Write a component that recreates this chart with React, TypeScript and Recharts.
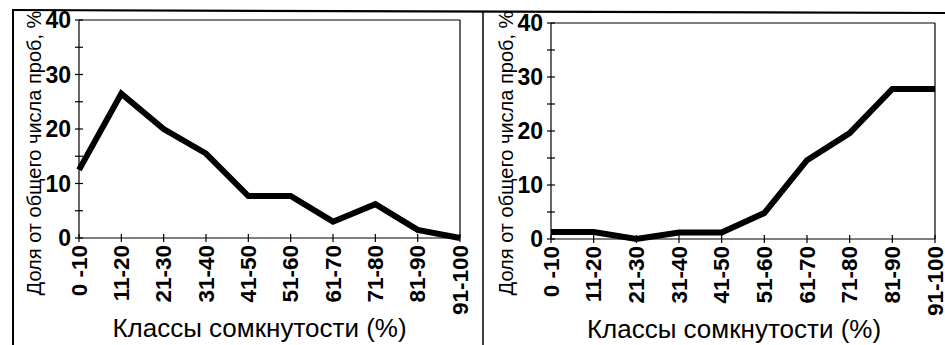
import React from 'react';
import { LineChart, Line, XAxis, YAxis, ReferenceLine } from 'recharts';

const classes = ['0 -10', '11-20', '21-30', '31-40', '41-50', '51-60', '61-70', '71-80', '81-90', '91-100'];
const leftShare = [12.5, 26.5, 20, 15.5, 7.7, 7.7, 3, 6.2, 1.5, 0];
const rightShare = [1.3, 1.3, 0, 1.2, 1.2, 4.8, 14.6, 19.6, 27.8, 27.8];
const yTicks = [0, 5, 10, 15, 20, 25, 30, 35, 40];

const yTitle = 'Доля от общего числа проб, %';
const xTitle = 'Классы сомкнутости (%)';

const font = 'Arial, "Liberation Sans", sans-serif';

function YTick({ x, y, payload }: any) {
  const v = payload.value;
  return (
    <g>
      <line x1={x - 4} x2={x + 4} y1={y} y2={y} stroke="#000" strokeWidth={1.2} />
      {v % 10 === 0 && (
        <text x={x - 8} y={y} dy="0.36em" textAnchor="end" fontSize={23} fontWeight="bold" fontFamily={font} fill="#000">
          {v}
        </text>
      )}
    </g>
  );
}

function XTick({ x, y, payload }: any) {
  const ty = y + 7;
  return (
    <g>
      <line x1={x} x2={x} y1={y - 4} y2={y + 4} stroke="#000" strokeWidth={1.2} />
      <text
        x={x}
        y={ty}
        dy="0.34em"
        transform={`rotate(-90, ${x}, ${ty})`}
        textAnchor="end"
        fontSize={22.5}
        fontWeight="bold"
        fontFamily={font}
        fill="#000"
      >
        {payload.value}
      </text>
    </g>
  );
}

interface PanelProps {
  values: number[];
  width: number;
  top: number;
  plotH: number;
  right: number;
  titleShift: number;
  yTitleShift: number;
}

function Panel({ values, width, top, plotH, right, titleShift, yTitleShift }: PanelProps) {
  const data = classes.map((c, i) => ({ cls: c, share: values[i] }));
  const xAxisH = 345 - top - plotH;

  const renderYTitle = (props: any) => {
    const vb = props.viewBox;
    const cx = vb.x + 34;
    const cy = vb.y + vb.height / 2 + yTitleShift;
    return (
      <text x={cx} y={cy} dy="0.36em" transform={`rotate(-90, ${cx}, ${cy})`} textAnchor="middle" fontSize={20} fontFamily={font} fill="#000">
        {yTitle}
      </text>
    );
  };

  const renderXTitle = (props: any) => {
    const vb = props.viewBox;
    return (
      <text x={vb.x + vb.width / 2 + titleShift} y={vb.y + 99} textAnchor="middle" fontSize={26} fontFamily={font} fill="#000">
        {xTitle}
      </text>
    );
  };

  return (
    <LineChart width={width} height={345} data={data} margin={{ top, right, bottom: 0, left: 0 }}>
      <XAxis
        dataKey="cls"
        interval={0}
        height={xAxisH}
        tickSize={0}
        tickMargin={0}
        tickLine={false}
        axisLine={{ stroke: '#000', strokeWidth: 1.2 }}
        tick={<XTick />}
        label={{ content: renderXTitle }}
      />
      <YAxis
        domain={[0, 40]}
        ticks={yTicks}
        interval={0}
        width={79}
        tickSize={0}
        tickMargin={0}
        tickLine={false}
        axisLine={{ stroke: '#000', strokeWidth: 1.2 }}
        tick={<YTick />}
        label={{ content: renderYTitle }}
      />
      <ReferenceLine y={40} stroke="#000" strokeWidth={1.2} />
      <ReferenceLine x="91-100" stroke="#000" strokeWidth={1.2} />
      <Line
        type="linear"
        dataKey="share"
        stroke="#000"
        strokeWidth={6}
        dot={false}
        activeDot={false}
        isAnimationActive={false}
      />
    </LineChart>
  );
}

export default function App() {
  return (
    <div style={{ position: 'absolute', left: 0, top: 0, width: 945, height: 345, background: '#fff', overflow: 'hidden' }}>
      <div style={{ position: 'absolute', left: 0, top: 0 }}>
        <Panel values={leftShare} width={472} top={20} plotH={218} right={12} titleShift={-10} yTitleShift={24} />
      </div>
      <div style={{ position: 'absolute', left: 472, top: 0 }}>
        <Panel values={rightShare} width={473} top={23} plotH={216} right={10} titleShift={-9} yTitleShift={22} />
      </div>
      {/* scanned frame round both panels */}
      <svg width={945} height={345} style={{ position: 'absolute', left: 0, top: 0, pointerEvents: 'none' }}>
        <line x1={13} y1={10} x2={945} y2={13} stroke="#000" strokeWidth={2.2} />
        <line x1={13} y1={9} x2={13} y2={345} stroke="#000" strokeWidth={2} />
        <line x1={483} y1={11} x2={483} y2={345} stroke="#000" strokeWidth={1.5} />
      </svg>
    </div>
  );
}
